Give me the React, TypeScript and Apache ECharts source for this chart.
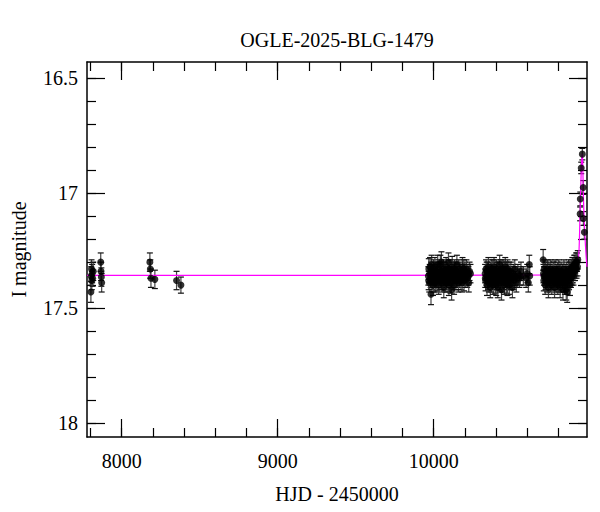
import React, { useEffect, useRef } from "react";
import * as echarts from "echarts";

const titleText = "OGLE-2025-BLG-1479";
const xName = "HJD - 2450000";
const yName = "I magnitude";

const xMin = 7778;
const xMax = 10983;
const yMin = 16.429;
const yMax = 18.061;

const xMajorTicks = [8000, 9000, 10000];
const xMinorTicks = [7800, 8000, 8200, 8400, 8600, 8800, 9000, 9200, 9400, 9600, 9800, 10000, 10200, 10400, 10600, 10800];
const yMajorTicks = [16.5, 17, 17.5, 18];
const yMinorTicks = [16.5, 16.6, 16.7, 16.8, 16.9, 17, 17.1, 17.2, 17.3, 17.4, 17.5, 17.6, 17.7, 17.8, 17.9, 18];

// [HJD-2450000, I mag, error]
const season2018 = [
  [7803, 17.43, 0.045], [7805, 17.36, 0.04], [7807, 17.33, 0.04], [7809, 17.38, 0.04],
  [7811, 17.35, 0.04], [7814, 17.37, 0.035], [7818, 17.34, 0.04],
  [7866, 17.30, 0.04], [7868, 17.34, 0.04], [7870, 17.365, 0.04], [7872, 17.39, 0.04],
];
const season2019 = [
  [8181, 17.30, 0.04], [8184, 17.33, 0.04], [8188, 17.37, 0.04], [8213, 17.375, 0.04],
  [8352, 17.38, 0.04], [8380, 17.40, 0.035],
];
const season2023 = [
  [9966, 17.36, 0.04], [9969, 17.33, 0.045], [9972, 17.39, 0.04], [9975, 17.35, 0.04], [9983, 17.44, 0.045],
  [9981, 17.37, 0.04], [9984, 17.34, 0.04], [9987, 17.31, 0.04], [9990, 17.38, 0.04], [9993, 17.36, 0.04],
  [9996, 17.40, 0.045], [9999, 17.33, 0.04], [10002, 17.35, 0.04], [10005, 17.37, 0.04], [10008, 17.32, 0.04],
  [10011, 17.39, 0.04], [10014, 17.36, 0.04], [10017, 17.34, 0.04], [10020, 17.38, 0.045], [10023, 17.35, 0.04],
  [10026, 17.31, 0.04], [10029, 17.37, 0.04], [10032, 17.40, 0.04], [10035, 17.33, 0.04], [10038, 17.36, 0.04],
  [10041, 17.38, 0.04], [10044, 17.34, 0.04], [10047, 17.36, 0.04], [10050, 17.30, 0.045], [10053, 17.39, 0.04],
  [10056, 17.35, 0.04], [10059, 17.37, 0.04], [10062, 17.33, 0.04], [10065, 17.41, 0.045], [10068, 17.36, 0.04],
  [10071, 17.34, 0.04], [10074, 17.38, 0.04], [10077, 17.35, 0.04], [10080, 17.32, 0.04], [10083, 17.37, 0.04],
  [10086, 17.39, 0.04], [10089, 17.34, 0.04], [10092, 17.36, 0.04], [10095, 17.30, 0.04], [10098, 17.40, 0.045],
  [10101, 17.35, 0.04], [10104, 17.33, 0.04], [10107, 17.37, 0.04], [10110, 17.36, 0.04], [10115, 17.42, 0.045],
  [10116, 17.34, 0.04], [10119, 17.32, 0.045], [10122, 17.38, 0.04], [10125, 17.35, 0.04], [10128, 17.37, 0.04],
  [10131, 17.40, 0.04], [10134, 17.33, 0.04], [10137, 17.36, 0.04], [10140, 17.34, 0.04], [10143, 17.38, 0.04],
  [10146, 17.35, 0.045], [10149, 17.31, 0.04], [10152, 17.37, 0.04], [10155, 17.36, 0.04], [10158, 17.39, 0.04],
  [10161, 17.33, 0.04], [10164, 17.35, 0.04], [10167, 17.37, 0.04], [10170, 17.34, 0.04], [10175, 17.38, 0.04],
  [10180, 17.36, 0.04], [10185, 17.32, 0.04], [10190, 17.35, 0.04], [10195, 17.38, 0.045], [10200, 17.34, 0.04],
  [10205, 17.36, 0.04], [10210, 17.33, 0.04], [10215, 17.37, 0.04], [10220, 17.35, 0.04], [10225, 17.39, 0.04],
  [10230, 17.34, 0.04], [10236, 17.35, 0.04],
  [9968, 17.38, 0.04], [9977, 17.32, 0.04], [9989, 17.35, 0.04], [10000, 17.39, 0.04], [10010, 17.34, 0.04],
  [10021, 17.37, 0.04], [10033, 17.35, 0.04], [10043, 17.31, 0.04], [10055, 17.38, 0.04], [10066, 17.34, 0.04],
  [10076, 17.39, 0.04], [10087, 17.36, 0.04], [10097, 17.33, 0.04], [10108, 17.39, 0.045], [10118, 17.36, 0.04],
  [10129, 17.34, 0.04], [10139, 17.37, 0.04], [10150, 17.35, 0.04], [10160, 17.38, 0.04], [10172, 17.36, 0.04],
  [10183, 17.39, 0.04], [10193, 17.33, 0.04], [10203, 17.37, 0.04], [10213, 17.35, 0.04], [10223, 17.36, 0.04],
];
const season2024 = [
  [10330, 17.35, 0.04], [10333, 17.38, 0.045], [10336, 17.33, 0.04], [10339, 17.36, 0.04], [10342, 17.40, 0.045],
  [10345, 17.34, 0.04], [10348, 17.37, 0.04], [10351, 17.32, 0.04], [10354, 17.39, 0.04], [10357, 17.35, 0.04],
  [10360, 17.37, 0.04], [10363, 17.41, 0.045], [10366, 17.34, 0.04], [10369, 17.36, 0.04], [10372, 17.33, 0.04],
  [10375, 17.38, 0.04], [10378, 17.35, 0.04], [10381, 17.40, 0.04], [10384, 17.36, 0.04], [10387, 17.32, 0.04],
  [10390, 17.37, 0.04], [10393, 17.34, 0.04], [10396, 17.39, 0.045], [10399, 17.36, 0.04], [10402, 17.33, 0.04],
  [10405, 17.38, 0.04], [10408, 17.35, 0.04], [10411, 17.41, 0.045], [10414, 17.37, 0.04], [10417, 17.34, 0.04],
  [10420, 17.36, 0.04], [10423, 17.31, 0.04], [10426, 17.39, 0.04], [10429, 17.35, 0.04], [10432, 17.37, 0.04],
  [10435, 17.42, 0.045], [10438, 17.34, 0.04], [10441, 17.36, 0.04], [10444, 17.33, 0.04], [10447, 17.38, 0.04],
  [10450, 17.35, 0.04], [10453, 17.40, 0.04], [10456, 17.36, 0.04], [10459, 17.32, 0.04], [10462, 17.37, 0.04],
  [10465, 17.34, 0.04], [10468, 17.39, 0.045], [10471, 17.36, 0.04], [10474, 17.33, 0.04], [10477, 17.38, 0.04],
  [10480, 17.35, 0.04], [10485, 17.40, 0.04], [10490, 17.36, 0.04], [10495, 17.34, 0.04], [10500, 17.37, 0.04],
  [10505, 17.41, 0.045], [10510, 17.35, 0.04], [10515, 17.38, 0.04], [10520, 17.33, 0.04], [10525, 17.36, 0.04],
  [10530, 17.39, 0.04], [10540, 17.35, 0.04], [10550, 17.37, 0.04], [10560, 17.34, 0.04], [10575, 17.36, 0.04],
  [10593, 17.37, 0.04], [10600, 17.35, 0.04], [10607, 17.39, 0.04], [10613, 17.31, 0.04], [10616, 17.36, 0.04],
  [10331, 17.37, 0.04], [10340, 17.34, 0.04], [10350, 17.38, 0.04], [10361, 17.35, 0.04], [10370, 17.39, 0.04],
  [10380, 17.33, 0.04], [10391, 17.36, 0.04], [10401, 17.40, 0.045], [10410, 17.34, 0.04], [10421, 17.38, 0.04],
  [10431, 17.33, 0.04], [10442, 17.39, 0.04], [10452, 17.34, 0.04], [10463, 17.36, 0.04], [10473, 17.40, 0.045],
  [10483, 17.34, 0.04], [10497, 17.38, 0.04], [10512, 17.36, 0.04], [10535, 17.37, 0.04], [10555, 17.36, 0.04],
];
const season2025 = [
  [10702, 17.29, 0.045], [10704, 17.35, 0.04], [10706, 17.38, 0.045], [10709, 17.33, 0.04], [10712, 17.36, 0.04],
  [10715, 17.40, 0.04], [10718, 17.34, 0.04], [10721, 17.37, 0.04], [10724, 17.35, 0.04], [10727, 17.39, 0.04],
  [10730, 17.33, 0.04], [10733, 17.36, 0.04], [10736, 17.41, 0.045], [10739, 17.34, 0.04], [10742, 17.37, 0.04],
  [10745, 17.35, 0.04], [10748, 17.39, 0.04], [10751, 17.33, 0.04], [10754, 17.36, 0.04], [10757, 17.40, 0.04],
  [10760, 17.35, 0.04], [10763, 17.37, 0.04], [10766, 17.34, 0.04], [10769, 17.38, 0.04], [10772, 17.36, 0.04],
  [10775, 17.41, 0.045], [10778, 17.33, 0.04], [10781, 17.36, 0.04], [10784, 17.39, 0.04], [10787, 17.35, 0.04],
  [10790, 17.37, 0.04], [10793, 17.34, 0.04], [10796, 17.40, 0.04], [10799, 17.36, 0.04], [10802, 17.33, 0.04],
  [10805, 17.38, 0.04], [10808, 17.35, 0.04], [10811, 17.41, 0.045], [10814, 17.37, 0.04], [10817, 17.34, 0.04],
  [10820, 17.36, 0.04], [10823, 17.39, 0.04], [10826, 17.35, 0.04], [10829, 17.42, 0.045], [10832, 17.37, 0.04],
  [10835, 17.33, 0.04], [10838, 17.36, 0.04], [10841, 17.40, 0.04], [10844, 17.35, 0.04], [10847, 17.38, 0.04],
  [10850, 17.42, 0.045], [10853, 17.34, 0.04], [10856, 17.43, 0.045], [10859, 17.37, 0.04], [10862, 17.35, 0.04],
  [10865, 17.33, 0.04], [10868, 17.38, 0.04], [10871, 17.34, 0.04], [10874, 17.40, 0.045], [10877, 17.34, 0.04],
  [10880, 17.37, 0.04], [10883, 17.33, 0.04], [10886, 17.36, 0.04], [10889, 17.32, 0.04], [10892, 17.35, 0.04],
  [10895, 17.32, 0.04], [10898, 17.34, 0.04], [10901, 17.31, 0.04], [10904, 17.33, 0.04], [10907, 17.31, 0.04],
  [10910, 17.32, 0.04], [10913, 17.30, 0.04], [10916, 17.33, 0.04], [10919, 17.30, 0.04], [10922, 17.32, 0.04],
  [10924, 17.29, 0.04],
  [10707, 17.36, 0.04], [10717, 17.38, 0.04], [10728, 17.35, 0.04], [10738, 17.38, 0.04], [10749, 17.36, 0.04],
  [10759, 17.38, 0.04], [10770, 17.34, 0.04], [10780, 17.38, 0.04], [10791, 17.36, 0.04], [10801, 17.39, 0.04],
  [10812, 17.35, 0.04], [10822, 17.37, 0.04], [10833, 17.39, 0.04], [10843, 17.36, 0.04], [10854, 17.40, 0.04],
  [10864, 17.36, 0.04], [10875, 17.37, 0.04], [10885, 17.35, 0.04], [10896, 17.36, 0.04], [10906, 17.34, 0.04],
];
const peakPoints = [
  [10939, 17.09, 0.03], [10940, 17.025, 0.03], [10946, 16.89, 0.025], [10953, 16.83, 0.025],
  [10959, 16.975, 0.03], [10960, 17.11, 0.03], [10966, 17.17, 0.03],
];

// model curve
const modelT = [7778, 10860, 10890, 10905, 10917, 10925, 10932, 10938, 10944, 10949, 10953, 10956, 10959, 10964, 10970, 10977, 10983];
const modelMag = [17.358, 17.356, 17.35, 17.34, 17.326, 17.30, 17.247, 17.10, 16.95, 16.86, 16.83, 16.88, 16.986, 17.10, 17.19, 17.27, 17.32];

const FONT = "Liberation Serif";

export default function App() {
  const ref = useRef<HTMLDivElement>(null);
  useEffect(() => {
    if (!ref.current) return;
    const chart = echarts.init(ref.current, undefined, { renderer: "svg" });
    const allPoints = [...season2018, ...season2019, ...season2023, ...season2024, ...season2025, ...peakPoints];
    const model = modelT.map((t, i) => [t, modelMag[i]]);
    const axisLine = { show: true, lineStyle: { color: "#000", width: 1.5 } };
    const tickStyle = { color: "#000", width: 1.2 };
    const baseX = { type: "value", min: xMin, max: xMax, splitLine: { show: false } };
    const baseY = { type: "value", min: yMin, max: yMax, inverse: true, splitLine: { show: false } };
    chart.setOption({
      animation: false,
      backgroundColor: "#fff",
      grid: { left: 87, right: 13, top: 62, bottom: 75 },
      graphic: [
        {
          type: "text",
          x: 337,
          y: 40,
          style: {
            text: titleText,
            fontFamily: FONT,
            fontSize: 20,
            fill: "#000",
            textAlign: "center",
            textVerticalAlign: "middle",
          },
        },
      ],
      xAxis: [
        {
          ...baseX,
          position: "bottom",
          axisLine,
          axisTick: { show: true, inside: true, length: 18, lineStyle: tickStyle, customValues: xMajorTicks },
          axisLabel: {
            show: true,
            customValues: xMajorTicks,
            fontFamily: FONT,
            fontSize: 20,
            color: "#000",
            margin: 14,
            formatter: (v: number) => String(v),
          },
          name: xName,
          nameLocation: "middle",
          nameGap: 47,
          nameTextStyle: { fontFamily: FONT, fontSize: 20, color: "#000" },
        },
        {
          ...baseX,
          position: "bottom",
          axisLine: { show: false },
          axisTick: { show: true, inside: true, length: 9, lineStyle: tickStyle, customValues: xMinorTicks },
          axisLabel: { show: false },
        },
        {
          ...baseX,
          position: "top",
          axisLine,
          axisTick: { show: true, inside: true, length: 18, lineStyle: tickStyle, customValues: xMajorTicks },
          axisLabel: { show: false },
        },
        {
          ...baseX,
          position: "top",
          axisLine: { show: false },
          axisTick: { show: true, inside: true, length: 9, lineStyle: tickStyle, customValues: xMinorTicks },
          axisLabel: { show: false },
        },
      ],
      yAxis: [
        {
          ...baseY,
          position: "left",
          axisLine,
          axisTick: { show: true, inside: true, length: 18, lineStyle: tickStyle, customValues: yMajorTicks },
          axisLabel: {
            show: true,
            customValues: yMajorTicks,
            fontFamily: FONT,
            fontSize: 20,
            color: "#000",
            margin: 9,
            formatter: (v: number) => String(v),
          },
          name: yName,
          nameLocation: "middle",
          nameGap: 58,
          nameRotate: 90,
          nameTextStyle: { fontFamily: FONT, fontSize: 20, color: "#000" },
        },
        {
          ...baseY,
          position: "left",
          axisLine: { show: false },
          axisTick: { show: true, inside: true, length: 9, lineStyle: tickStyle, customValues: yMinorTicks },
          axisLabel: { show: false },
        },
        {
          ...baseY,
          position: "right",
          axisLine,
          axisTick: { show: true, inside: true, length: 18, lineStyle: tickStyle, customValues: yMajorTicks },
          axisLabel: { show: false },
        },
        {
          ...baseY,
          position: "right",
          axisLine: { show: false },
          axisTick: { show: true, inside: true, length: 9, lineStyle: tickStyle, customValues: yMinorTicks },
          axisLabel: { show: false },
        },
      ],
      series: [
        {
          type: "custom",
          xAxisIndex: 0,
          yAxisIndex: 0,
          z: 2,
          data: allPoints,
          encode: { x: 0, y: 1 },
          renderItem: (params: any, api: any) => {
            const t = api.value(0);
            const m = api.value(1);
            const e = api.value(2);
            const p1 = api.coord([t, m - e]);
            const p2 = api.coord([t, m + e]);
            const cap = 3;
            return {
              type: "group",
              children: [
                { type: "line", shape: { x1: p1[0], y1: p1[1], x2: p2[0], y2: p2[1] }, style: { stroke: "#444", lineWidth: 1.2 } },
                { type: "line", shape: { x1: p1[0] - cap, y1: p1[1], x2: p1[0] + cap, y2: p1[1] }, style: { stroke: "#111", lineWidth: 1.2 } },
                { type: "line", shape: { x1: p2[0] - cap, y1: p2[1], x2: p2[0] + cap, y2: p2[1] }, style: { stroke: "#111", lineWidth: 1.2 } },
              ],
            };
          },
        },
        {
          type: "line",
          xAxisIndex: 0,
          yAxisIndex: 0,
          z: 3,
          data: model,
          showSymbol: false,
          symbol: "none",
          smooth: 0.3,
          lineStyle: { color: "#ff00ff", width: 1.2 },
        },
        {
          type: "scatter",
          xAxisIndex: 0,
          yAxisIndex: 0,
          z: 4,
          data: allPoints.map((p) => [p[0], p[1]]),
          symbol: "circle",
          symbolSize: 7,
          itemStyle: { color: "#000" },
        },
      ],
    });
    return () => chart.dispose();
  }, []);
  return <div ref={ref} style={{ position: "fixed", left: 0, top: 0, width: 600, height: 512 }} />;
}
